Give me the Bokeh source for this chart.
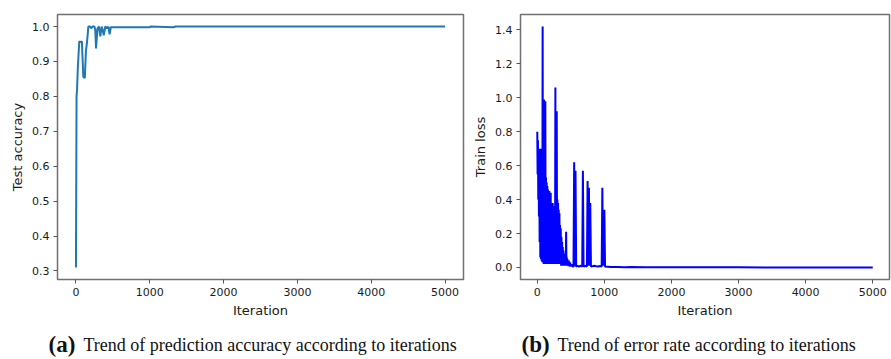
from bokeh.plotting import figure
from bokeh.layouts import column, row
from bokeh.models import Range1d, FixedTicker, PrintfTickFormatter, Label
from bokeh.embed import file_html
from bokeh.resources import INLINE

# ---------------- data ----------------
acc_iter = [0, 8, 15, 25, 45, 60, 80, 100, 120, 135, 150, 168, 190, 205, 225, 250, 262, 272,
            292, 312, 330, 348, 362, 376, 398, 420, 440, 456, 472, 500, 560, 1000, 1010,
            1320, 1350, 5000]
acc_val = [0.31, 0.80, 0.82, 0.88, 0.958, 0.955, 0.958, 0.855, 0.853, 0.93, 0.955, 1.0, 1.0,
           0.995, 1.0, 1.0, 0.99, 0.937, 0.995, 1.0, 0.972, 1.0, 0.99, 0.975, 1.0, 0.995,
           1.0, 0.978, 0.998, 0.998, 0.998, 0.998, 1.0, 0.998, 1.0, 1.0]

loss_iter = [0, 5, 10, 15, 20, 25, 30, 35, 40, 45, 50, 55, 60, 65, 70, 75, 80, 85, 90, 95,
             100, 105, 110, 115, 120, 125, 130, 135, 140, 145, 150, 155, 160, 165, 170, 175,
             180, 185, 190, 195, 200, 205, 210, 215, 220, 225, 230, 235, 240, 245, 250, 255,
             260, 265, 270, 275, 280, 285, 290, 295, 300, 305, 310, 315, 320, 325, 330, 335,
             340, 345, 350, 355, 360, 365, 370, 375, 380, 385, 390, 395, 400, 405, 410, 415,
             420, 425, 430, 435, 440, 445, 450, 455, 460, 465, 470, 475, 480, 485, 490, 495,
             500, 505, 510, 515, 520, 530, 540, 550, 560, 570, 580, 600, 620, 650, 670, 680,
             690, 720, 740, 750, 760, 770, 780, 790, 800, 850, 900, 940, 960, 970, 980, 1000,
             1010, 1050, 1100, 1200, 1300, 1400, 1600, 2000, 3000, 4000, 5000]
loss_val = [0.80, 0.55, 0.75, 0.40, 0.70, 0.30, 0.70, 0.15, 0.69, 0.06, 0.70, 0.05, 0.62,
            0.04, 0.55, 0.03, 1.42, 0.03, 0.50, 0.02, 0.99, 0.04, 0.55, 0.02, 0.98, 0.03,
            0.53, 0.02, 0.50, 0.04, 0.48, 0.02, 0.46, 0.03, 0.42, 0.02, 0.45, 0.04, 0.40,
            0.02, 0.44, 0.03, 0.36, 0.02, 0.33, 0.03, 0.38, 0.02, 0.36, 0.03, 0.35, 0.02,
            0.34, 0.03, 1.06, 0.04, 0.38, 0.02, 0.92, 0.03, 0.40, 0.02, 0.38, 0.03, 0.34,
            0.02, 0.32, 0.02, 0.25, 0.02, 0.23, 0.01, 0.18, 0.02, 0.15, 0.01, 0.12, 0.01,
            0.10, 0.01, 0.08, 0.01, 0.07, 0.01, 0.06, 0.01, 0.21, 0.01, 0.06, 0.01, 0.05,
            0.01, 0.04, 0.008, 0.04, 0.008, 0.03, 0.006, 0.03, 0.005, 0.02, 0.005, 0.02,
            0.005, 0.015, 0.005, 0.005, 0.62, 0.005, 0.57, 0.005, 0.01, 0.005, 0.01, 0.005,
            0.57, 0.005, 0.01, 0.005, 0.51, 0.01, 0.47, 0.01, 0.38, 0.005, 0.01, 0.005,
            0.008, 0.005, 0.47, 0.01, 0.34, 0.005, 0.004, 0.002, 0.003, 0.001, 0.002, 0.001,
            0.0005, 0.0005, 0.0003, 0.0003]

x_ticks = [0, 1000, 2000, 3000, 4000, 5000]
acc_ticks = [0.3, 0.4, 0.5, 0.6, 0.7, 0.8, 0.9, 1.0]
loss_ticks = [0.0, 0.2, 0.4, 0.6, 0.8, 1.0, 1.2, 1.4]

x_label = "Iteration"
acc_label = "Test accuracy"
loss_label = "Train loss"
cap_a_tag, cap_a_text = "(a)", "Trend of prediction accuracy according to iterations"
cap_b_tag, cap_b_text = "(b)", "Trend of error rate according to iterations"


def make_panel(width, height, bl, br, bt, bb, yr, ylabel, yticks):
    p = figure(width=width, height=height, x_range=Range1d(-250, 5250),
               y_range=Range1d(*yr), toolbar_location=None, output_backend="svg",
               min_border_left=bl, min_border_right=br, min_border_top=bt,
               min_border_bottom=bb)
    p.grid.visible = False
    p.outline_line_color = "#707070"
    p.outline_line_width = 1.5
    p.xaxis.ticker = FixedTicker(ticks=x_ticks)
    p.yaxis.ticker = FixedTicker(ticks=yticks)
    p.yaxis.formatter = PrintfTickFormatter(format="%.1f")
    for ax in (p.xaxis[0], p.yaxis[0]):
        ax.axis_line_color = None
        ax.major_tick_in = 0
        ax.major_tick_out = 4
        ax.major_tick_line_color = "#555555"
        ax.minor_tick_line_color = None
        ax.major_label_text_font = "DejaVu Sans"
        ax.major_label_text_font_size = "11px"
        ax.major_label_text_color = "#1a1a1a"
        ax.axis_label_text_font = "DejaVu Sans"
        ax.axis_label_text_font_size = "13px"
        ax.axis_label_text_font_style = "normal"
        ax.axis_label_text_color = "#1a1a1a"
        ax.major_label_standoff = 4
        ax.axis_label_standoff = 4
    p.xaxis.axis_label = x_label
    p.yaxis.axis_label = ylabel
    return p


p1 = make_panel(466, 322, 57, 3, 14, 42, (0.2755, 1.0345), acc_label, acc_ticks)
p1.line(acc_iter, acc_val, line_color="#1f77b4", line_width=2)

p2 = make_panel(425, 322, 54, 2, 11, 43, (-0.071, 1.491), loss_label, loss_ticks)
p2.line(loss_iter, loss_val, line_color="#0000ff", line_width=2)

cap = figure(width=891, height=37, x_range=Range1d(0, 891), y_range=Range1d(0, 37),
             toolbar_location=None, output_backend="svg", min_border=0)
cap.axis.visible = False
cap.grid.visible = False
cap.outline_line_color = None
for x, t in ((48, cap_a_tag), (521, cap_b_tag)):
    cap.add_layout(Label(x=x, y=15, text=t, text_font="Liberation Serif",
                         text_font_style="bold", text_font_size="23px",
                         text_baseline="alphabetic", text_color="#111111"))
for x, t in ((83, cap_a_text), (557, cap_b_text)):
    cap.add_layout(Label(x=x, y=15, text=t, text_font="Liberation Serif",
                         text_font_size="18px", text_baseline="alphabetic",
                         text_color="#111111"))

layout = column(row(p1, p2, spacing=0), cap, spacing=0)
open("out.html", "w").write(file_html(layout, INLINE))
